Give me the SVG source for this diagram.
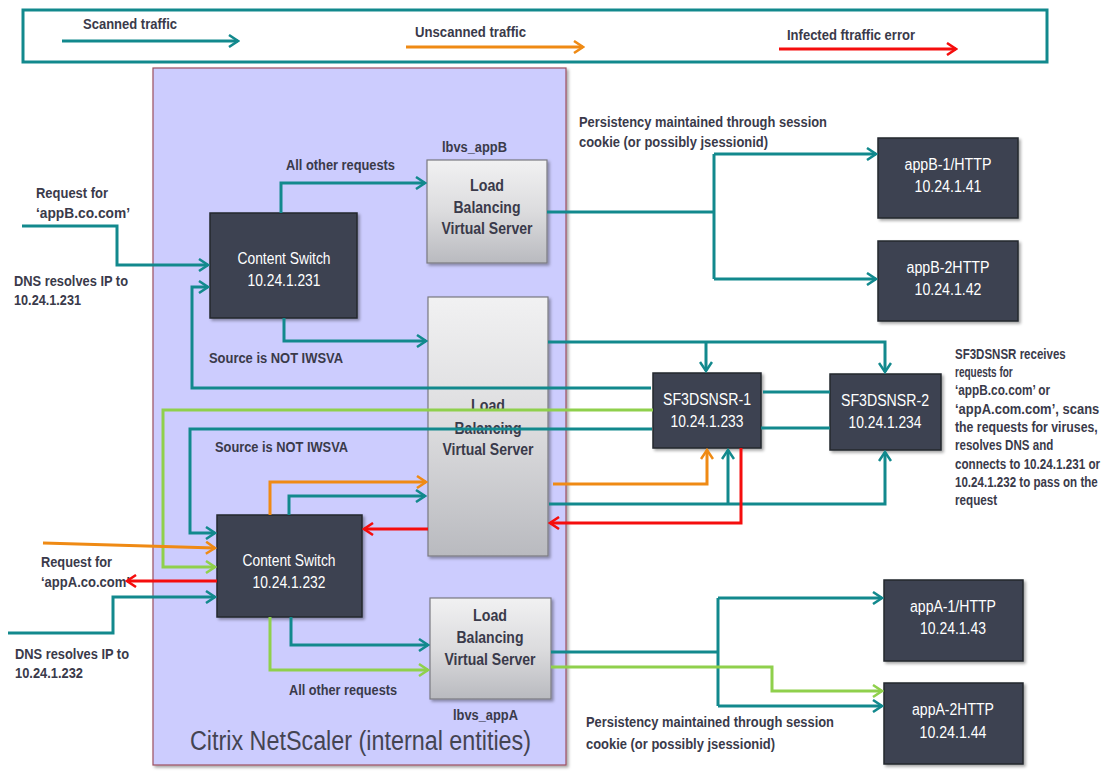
<svg xmlns="http://www.w3.org/2000/svg" width="1112" height="779" viewBox="0 0 1112 779">
<defs>
<style>
.lbl{font-family:"Liberation Sans Narrow","Arial Narrow","Liberation Sans",sans-serif;font-weight:bold;font-size:14px;fill:#3a3a4a}
.wt{font-family:"Liberation Sans Narrow","Arial Narrow","Liberation Sans",sans-serif;font-size:16px;fill:#ffffff;text-anchor:middle}
.lbt{font-family:"Liberation Sans Narrow","Arial Narrow","Liberation Sans",sans-serif;font-weight:bold;font-size:16px;fill:#3a3a4a;text-anchor:middle}
.dark{fill:#3d4251;stroke:#24272e;stroke-width:1.5}
.lbbox{fill:url(#lbg);stroke:#7a7a80;stroke-width:1.2}
.c{fill:none;stroke-width:3}
.t{stroke:#12898d}
.o{stroke:#ef8a14}
.r{stroke:#f50d0d}
.g{stroke:#8fd04c}
</style>
<linearGradient id="lbg" x1="0" y1="0" x2="0" y2="1">
<stop offset="0" stop-color="#f1f1f2"/>
<stop offset="0.5" stop-color="#dcdcde"/>
<stop offset="1" stop-color="#b9babf"/>
</linearGradient>
<filter id="sh" x="-10%" y="-10%" width="130%" height="130%">
<feDropShadow dx="2" dy="2" stdDeviation="1.5" flood-color="#000" flood-opacity="0.35"/>
</filter>
<marker id="at" markerUnits="userSpaceOnUse" markerWidth="12" markerHeight="14" refX="10" refY="7" orient="auto"><path d="M1,1 L10,7 L1,13" fill="none" stroke="#12898d" stroke-width="2.5"/></marker>
<marker id="ao" markerUnits="userSpaceOnUse" markerWidth="12" markerHeight="14" refX="10" refY="7" orient="auto"><path d="M1,1 L10,7 L1,13" fill="none" stroke="#ef8a14" stroke-width="2.5"/></marker>
<marker id="ar" markerUnits="userSpaceOnUse" markerWidth="12" markerHeight="14" refX="10" refY="7" orient="auto"><path d="M1,1 L10,7 L1,13" fill="none" stroke="#f50d0d" stroke-width="2.5"/></marker>
<marker id="ag" markerUnits="userSpaceOnUse" markerWidth="12" markerHeight="14" refX="10" refY="7" orient="auto"><path d="M1,1 L10,7 L1,13" fill="none" stroke="#8fd04c" stroke-width="2.5"/></marker>
</defs>
<rect width="1112" height="779" fill="#ffffff"/>

<g id="legend">
<rect x="23" y="10" width="1024" height="52" fill="#ffffff" stroke="#12898d" stroke-width="3"/>
<text class="lbl" x="83" y="29" textLength="94" lengthAdjust="spacingAndGlyphs">Scanned traffic</text>
<path class="c t" d="M62,41 H238" stroke-width="4" marker-end="url(#at)"/>
<text class="lbl" x="415" y="37" textLength="111" lengthAdjust="spacingAndGlyphs">Unscanned traffic</text>
<path class="c o" d="M406,47 H583" stroke-width="4" marker-end="url(#ao)"/>
<text class="lbl" x="787" y="40" textLength="128" lengthAdjust="spacingAndGlyphs">Infected ftraffic error</text>
<path class="c r" d="M779,49 H956" stroke-width="4" marker-end="url(#ar)"/>
</g>

<g id="netscaler">
<rect x="153" y="68" width="413" height="697" fill="#ccccfe" stroke="#9c4f60" stroke-width="1.2" filter="url(#sh)"/>
<text x="190" y="750" textLength="341" lengthAdjust="spacingAndGlyphs" style="font-family:'Liberation Sans Narrow','Arial Narrow','Liberation Sans',sans-serif;font-size:27px;fill:#444452">Citrix NetScaler (internal entities)</text>
</g>

<g id="cs1">
<rect class="dark" x="210" y="213" width="147" height="105" filter="url(#sh)"/>
<text class="wt" x="284" y="264" textLength="93" lengthAdjust="spacingAndGlyphs">Content Switch</text>
<text class="wt" x="284" y="286" textLength="73" lengthAdjust="spacingAndGlyphs">10.24.1.231</text>
</g>

<g id="lb-appB">
<text class="lbl" x="442" y="152" textLength="65" lengthAdjust="spacingAndGlyphs">lbvs_appB</text>
<rect class="lbbox" x="427" y="160" width="120" height="103" filter="url(#sh)"/>
<text class="lbt" x="487" y="191" textLength="34" lengthAdjust="spacingAndGlyphs">Load</text>
<text class="lbt" x="487" y="213" textLength="67" lengthAdjust="spacingAndGlyphs">Balancing</text>
<text class="lbt" x="487" y="234" textLength="91" lengthAdjust="spacingAndGlyphs">Virtual Server</text>
</g>

<g id="lb-mid">
<rect class="lbbox" x="428" y="297" width="120" height="259" filter="url(#sh)"/>
<text class="lbt" x="488" y="411" textLength="34" lengthAdjust="spacingAndGlyphs">Load</text>
<text class="lbt" x="488" y="434" textLength="67" lengthAdjust="spacingAndGlyphs">Balancing</text>
<text class="lbt" x="488" y="455" textLength="91" lengthAdjust="spacingAndGlyphs">Virtual Server</text>
</g>

<g id="cs2">
<rect class="dark" x="217" y="515" width="145" height="102" filter="url(#sh)"/>
<text class="wt" x="289" y="566" textLength="93" lengthAdjust="spacingAndGlyphs">Content Switch</text>
<text class="wt" x="289" y="588" textLength="73" lengthAdjust="spacingAndGlyphs">10.24.1.232</text>
</g>

<g id="lb-appA">
<rect class="lbbox" x="430" y="598" width="121" height="101" filter="url(#sh)"/>
<text class="lbt" x="490" y="621" textLength="34" lengthAdjust="spacingAndGlyphs">Load</text>
<text class="lbt" x="490" y="643" textLength="67" lengthAdjust="spacingAndGlyphs">Balancing</text>
<text class="lbt" x="490" y="665" textLength="91" lengthAdjust="spacingAndGlyphs">Virtual Server</text>
<text class="lbl" x="453" y="720" textLength="65" lengthAdjust="spacingAndGlyphs">lbvs_appA</text>
</g>

<g id="sf1">
<rect class="dark" x="653" y="373" width="108" height="75" filter="url(#sh)"/>
<text class="wt" x="707" y="405" textLength="88" lengthAdjust="spacingAndGlyphs">SF3DSNSR-1</text>
<text class="wt" x="707" y="427" textLength="73" lengthAdjust="spacingAndGlyphs">10.24.1.233</text>
</g>

<g id="sf2">
<rect class="dark" x="830" y="374" width="111" height="76" filter="url(#sh)"/>
<text class="wt" x="885" y="406" textLength="88" lengthAdjust="spacingAndGlyphs">SF3DSNSR-2</text>
<text class="wt" x="885" y="428" textLength="73" lengthAdjust="spacingAndGlyphs">10.24.1.234</text>
</g>

<g id="appB1">
<rect class="dark" x="878" y="138" width="140" height="80" filter="url(#sh)"/>
<text class="wt" x="948" y="170" textLength="87" lengthAdjust="spacingAndGlyphs">appB-1/HTTP</text>
<text class="wt" x="948" y="192" textLength="67" lengthAdjust="spacingAndGlyphs">10.24.1.41</text>
</g>

<g id="appB2">
<rect class="dark" x="878" y="241" width="140" height="80" filter="url(#sh)"/>
<text class="wt" x="948" y="273" textLength="83" lengthAdjust="spacingAndGlyphs">appB-2HTTP</text>
<text class="wt" x="948" y="295" textLength="67" lengthAdjust="spacingAndGlyphs">10.24.1.42</text>
</g>

<g id="appA1">
<rect class="dark" x="884" y="580" width="139" height="81" filter="url(#sh)"/>
<text class="wt" x="953" y="612" textLength="86" lengthAdjust="spacingAndGlyphs">appA-1/HTTP</text>
<text class="wt" x="953" y="634" textLength="66" lengthAdjust="spacingAndGlyphs">10.24.1.43</text>
</g>

<g id="appA2">
<rect class="dark" x="884" y="683" width="139" height="81" filter="url(#sh)"/>
<text class="wt" x="953" y="715" textLength="82" lengthAdjust="spacingAndGlyphs">appA-2HTTP</text>
<text class="wt" x="953" y="738" textLength="67" lengthAdjust="spacingAndGlyphs">10.24.1.44</text>
</g>

<g id="labels">
<text class="lbl" x="579" y="127" textLength="248" lengthAdjust="spacingAndGlyphs">Persistency maintained through session</text>
<text class="lbl" x="579" y="147" textLength="189" lengthAdjust="spacingAndGlyphs">cookie (or possibly jsessionid)</text>
<text class="lbl" x="286" y="170" textLength="109" lengthAdjust="spacingAndGlyphs">All other requests</text>
<text class="lbl" x="36" y="198" textLength="72" lengthAdjust="spacingAndGlyphs">Request for</text>
<text class="lbl" x="36" y="218" textLength="94" lengthAdjust="spacingAndGlyphs">‘appB.co.com’</text>
<text class="lbl" x="14" y="286" textLength="114" lengthAdjust="spacingAndGlyphs">DNS resolves IP to</text>
<text class="lbl" x="14" y="305" textLength="67" lengthAdjust="spacingAndGlyphs">10.24.1.231</text>
<text class="lbl" x="209" y="363" textLength="134" lengthAdjust="spacingAndGlyphs">Source is NOT IWSVA</text>
<text class="lbl" x="215" y="452" textLength="133" lengthAdjust="spacingAndGlyphs">Source is NOT IWSVA</text>
<text class="lbl" x="41" y="567" textLength="71" lengthAdjust="spacingAndGlyphs">Request for</text>
<text class="lbl" x="41" y="587" textLength="89" lengthAdjust="spacingAndGlyphs">‘appA.co.com’</text>
<text class="lbl" x="15" y="659" textLength="114" lengthAdjust="spacingAndGlyphs">DNS resolves IP to</text>
<text class="lbl" x="15" y="678" textLength="68" lengthAdjust="spacingAndGlyphs">10.24.1.232</text>
<text class="lbl" x="289" y="695" textLength="108" lengthAdjust="spacingAndGlyphs">All other requests</text>
<text class="lbl" x="586" y="727" textLength="248" lengthAdjust="spacingAndGlyphs">Persistency maintained through session</text>
<text class="lbl" x="586" y="749" textLength="189" lengthAdjust="spacingAndGlyphs">cookie (or possibly jsessionid)</text>
</g>

<g id="sf-note" transform="translate(955 0) scale(0.78 1)">
<text class="lbl" x="0" y="359" textLength="142" lengthAdjust="spacingAndGlyphs">SF3DSNSR receives</text>
<text class="lbl" x="0" y="377" textLength="74" lengthAdjust="spacingAndGlyphs">requests for</text>
<text class="lbl" x="0" y="395" textLength="122" lengthAdjust="spacingAndGlyphs">‘appB.co.com’ or</text>
<text class="lbl" x="0" y="414" textLength="185" lengthAdjust="spacingAndGlyphs">‘appA.com.com’, scans</text>
<text class="lbl" x="0" y="432" textLength="183" lengthAdjust="spacingAndGlyphs">the requests for viruses,</text>
<text class="lbl" x="0" y="450" textLength="126" lengthAdjust="spacingAndGlyphs">resolves DNS and</text>
<text class="lbl" x="0" y="469" textLength="186" lengthAdjust="spacingAndGlyphs">connects to 10.24.1.231  or</text>
<text class="lbl" x="0" y="487" textLength="183" lengthAdjust="spacingAndGlyphs">10.24.1.232 to pass on the</text>
<text class="lbl" x="0" y="505" textLength="54" lengthAdjust="spacingAndGlyphs">request</text>
</g>

<g id="connectors">
<path class="c t" d="M22,226 H117 V265 H208" marker-end="url(#at)"/>
<path class="c t" d="M281,213 V183 H425" marker-end="url(#at)"/>
<path class="c t" d="M284,318 V341 H426" marker-end="url(#at)"/>
<path class="c t" d="M547,212 H714"/>
<path class="c t" d="M714,154 V279"/>
<path class="c t" d="M714,154 H876" marker-end="url(#at)"/>
<path class="c t" d="M714,279 H876" marker-end="url(#at)"/>
<path class="c t" d="M548,342 H885 V372" marker-end="url(#at)"/>
<path class="c t" d="M706,342 V371" marker-end="url(#at)"/>
<path class="c t" d="M651,388 H192 V287 H208" marker-end="url(#at)"/>
<path class="c g" d="M653,410 H163 V567 H215" marker-end="url(#ag)"/>
<path class="c t" d="M652,429 H190 V533 H215" marker-end="url(#at)"/>
<path class="c t" d="M763,392 H830"/>
<path class="c t" d="M761,428 H830"/>
<path class="c o" d="M270,515 V482 H426" marker-end="url(#ao)"/>
<path class="c t" d="M289,515 V496 H425" marker-end="url(#at)"/>
<path class="c r" d="M428,529 H364" marker-end="url(#ar)"/>
<path class="c o" d="M553,484 H707 V450" marker-end="url(#ao)"/>
<path class="c t" d="M549,504 H885 V452" marker-end="url(#at)"/>
<path class="c t" d="M728,504 V450" marker-end="url(#at)"/>
<path class="c r" d="M741,448 V523 H550" marker-end="url(#ar)"/>
<path class="c o" d="M43,543 L215,548" marker-end="url(#ao)"/>
<path class="c r" d="M217,581 H127" marker-end="url(#ar)"/>
<path class="c t" d="M8,633 H113 V597 H215" marker-end="url(#at)"/>
<path class="c t" d="M291,617 V645 H428" marker-end="url(#at)"/>
<path class="c g" d="M270,617 V670 H428" marker-end="url(#ag)"/>
<path class="c t" d="M551,652 H718"/>
<path class="c t" d="M718,598 V706"/>
<path class="c t" d="M718,598 H882" marker-end="url(#at)"/>
<path class="c t" d="M718,706 H882" marker-end="url(#at)"/>
<path class="c g" d="M551,667 H772 V691 H882" marker-end="url(#ag)"/>
</g>
</svg>
